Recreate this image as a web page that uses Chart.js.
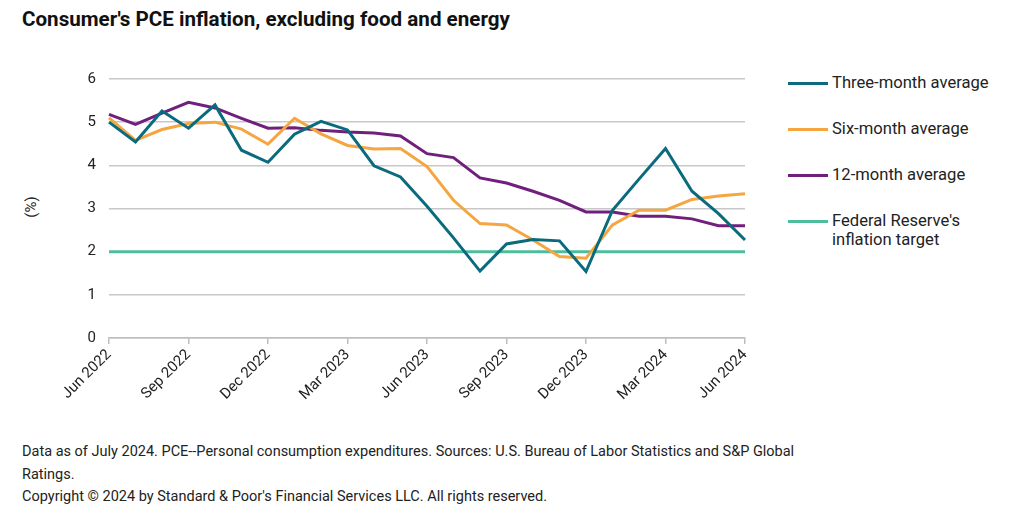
<!DOCTYPE html>
<html>
<head>
<meta charset="utf-8">
<script src="https://cdn.jsdelivr.net/npm/chart.js@4.4.1/dist/chart.umd.min.js"></script>
<style>
  body { margin: 0; background: #fff; font-family: Roboto, "Open Sans", sans-serif; color: #222; }
  #page { position: relative; width: 1019px; height: 532px; overflow: hidden; }
  #title { position: absolute; left: 22px; top: 7px; font-size: 20.6px; font-weight: bold; color: #111; }
  #ylabel { position: absolute; left: 20px; top: 198px; font-size: 15px; transform: rotate(-90deg); transform-origin: center; }
  #wrap { position: absolute; left: 0; top: 0; width: 760px; height: 420px; }
  #legend { position: absolute; left: 788px; top: 0; font-size: 16.6px; color: #222; }
  .item { position: absolute; left: 0; white-space: nowrap; }
  .swatch { position: absolute; left: 0; width: 40px; height: 3px; }
  .label { position: absolute; left: 44px; line-height: 19px; }
  #notes { position: absolute; left: 22px; top: 441px; font-size: 14.5px; line-height: 22.5px; color: #222; }
</style>
</head>
<body>
<div id="page">
  <div id="title">Consumer's PCE inflation, excluding food and energy</div>
  <div id="ylabel">(%)</div>
  <div id="wrap"><canvas id="pceChart"></canvas></div>
  <div id="legend"></div>
  <div id="notes">Data as of July 2024. PCE--Personal consumption expenditures. Sources: U.S. Bureau of Labor Statistics and S&amp;P Global<br>Ratings.<br>Copyright © 2024 by Standard &amp; Poor's Financial Services LLC. All rights reserved.</div>
</div>
<script>
const months = ['Jun 2022', 'Jul 2022', 'Aug 2022', 'Sep 2022', 'Oct 2022', 'Nov 2022', 'Dec 2022',
    'Jan 2023', 'Feb 2023', 'Mar 2023', 'Apr 2023', 'May 2023', 'Jun 2023', 'Jul 2023', 'Aug 2023',
    'Sep 2023', 'Oct 2023', 'Nov 2023', 'Dec 2023', 'Jan 2024', 'Feb 2024', 'Mar 2024', 'Apr 2024',
    'May 2024', 'Jun 2024'];

const threeMonth = [5.00, 4.54, 5.26, 4.86, 5.40, 4.35, 4.07, 4.72, 5.02, 4.82, 3.99, 3.73, 3.05,
    2.32, 1.55, 2.18, 2.28, 2.25, 1.54, 2.96, 3.68, 4.39, 3.40, 2.88, 2.27];
const sixMonth = [5.10, 4.58, 4.83, 4.97, 5.00, 4.84, 4.49, 5.09, 4.73, 4.46, 4.38, 4.39, 3.97,
    3.19, 2.65, 2.62, 2.27, 1.89, 1.85, 2.62, 2.96, 2.96, 3.21, 3.29, 3.34];
const twelveMonth = [5.18, 4.95, 5.21, 5.46, 5.33, 5.09, 4.86, 4.87, 4.81, 4.77, 4.75, 4.68, 4.27,
    4.18, 3.71, 3.59, 3.40, 3.19, 2.92, 2.92, 2.82, 2.82, 2.76, 2.60, 2.60];
const fedTarget = [2, 2, 2, 2, 2, 2, 2, 2, 2, 2, 2, 2, 2, 2, 2, 2, 2, 2, 2, 2, 2, 2, 2, 2, 2];

const yTicks = [0, 1, 2, 3, 4, 5, 6];

const series = [
    { name: 'Three-month average', data: threeMonth, color: '#0a6b7e' },
    { name: 'Six-month average', data: sixMonth, color: '#f5a640' },
    { name: '12-month average', data: twelveMonth, color: '#711f7d' },
    { name: "Federal Reserve's\ninflation target", data: fedTarget, color: '#4dbd9c' }
];

// legend built by hand so it sits where the original has it
const legendTops = [83, 129, 175, 221];
const legend = document.getElementById('legend');
series.forEach((s, i) => {
    const item = document.createElement('div');
    item.className = 'item';
    item.style.top = legendTops[i] + 'px';
    const sw = document.createElement('div');
    sw.className = 'swatch';
    sw.style.background = s.color;
    sw.style.top = '-1.5px';
    const lb = document.createElement('div');
    lb.className = 'label';
    lb.style.top = '-10px';
    lb.innerHTML = s.name.replace('\n', '<br>');
    item.appendChild(sw);
    item.appendChild(lb);
    legend.appendChild(item);
});

const ctx = document.getElementById('pceChart').getContext('2d');
new Chart(ctx, {
    type: 'line',
    data: {
        labels: months,
        datasets: series.map(s => ({
            label: s.name,
            data: s.data,
            borderColor: s.color,
            backgroundColor: s.color,
            borderWidth: 3,
            pointRadius: 0,
            tension: 0,
            fill: false
        }))
    },
    options: {
        responsive: true,
        maintainAspectRatio: false,
        animation: false,
        layout: { padding: { top: 79, right: 15, left: 0, bottom: 0 } },
        plugins: {
            legend: { display: false },
            tooltip: { enabled: false }
        },
        scales: {
            x: {
                offset: false,
                afterFit: scale => { scale.height = 82; },
                grid: {
                    drawOnChartArea: false,
                    drawTicks: true,
                    tickLength: 6,
                    color: c => (c.index % 3 === 0 ? '#bdbdbd' : 'rgba(0,0,0,0)'),
                    lineWidth: 1.5
                },
                border: { display: true, color: '#bdbdbd', width: 1.5 },
                ticks: {
                    autoSkip: false,
                    maxRotation: 45,
                    minRotation: 45,
                    padding: 2,
                    color: '#222',
                    font: { family: 'Roboto', size: 15 },
                    callback: function (value, index) {
                        return index % 3 === 0 ? months[index] : '';
                    }
                }
            },
            y: {
                min: 0,
                max: 6,
                afterFit: scale => { scale.width = 109; },
                afterBuildTicks: scale => { scale.ticks = yTicks.map(v => ({ value: v })); },
                grid: { color: '#c8c8c8', lineWidth: 1.5, drawTicks: false },
                border: { display: false },
                ticks: {
                    padding: 13,
                    color: '#222',
                    font: { family: 'Roboto', size: 15 }
                }
            }
        }
    }
});
</script>
</body>
</html>
